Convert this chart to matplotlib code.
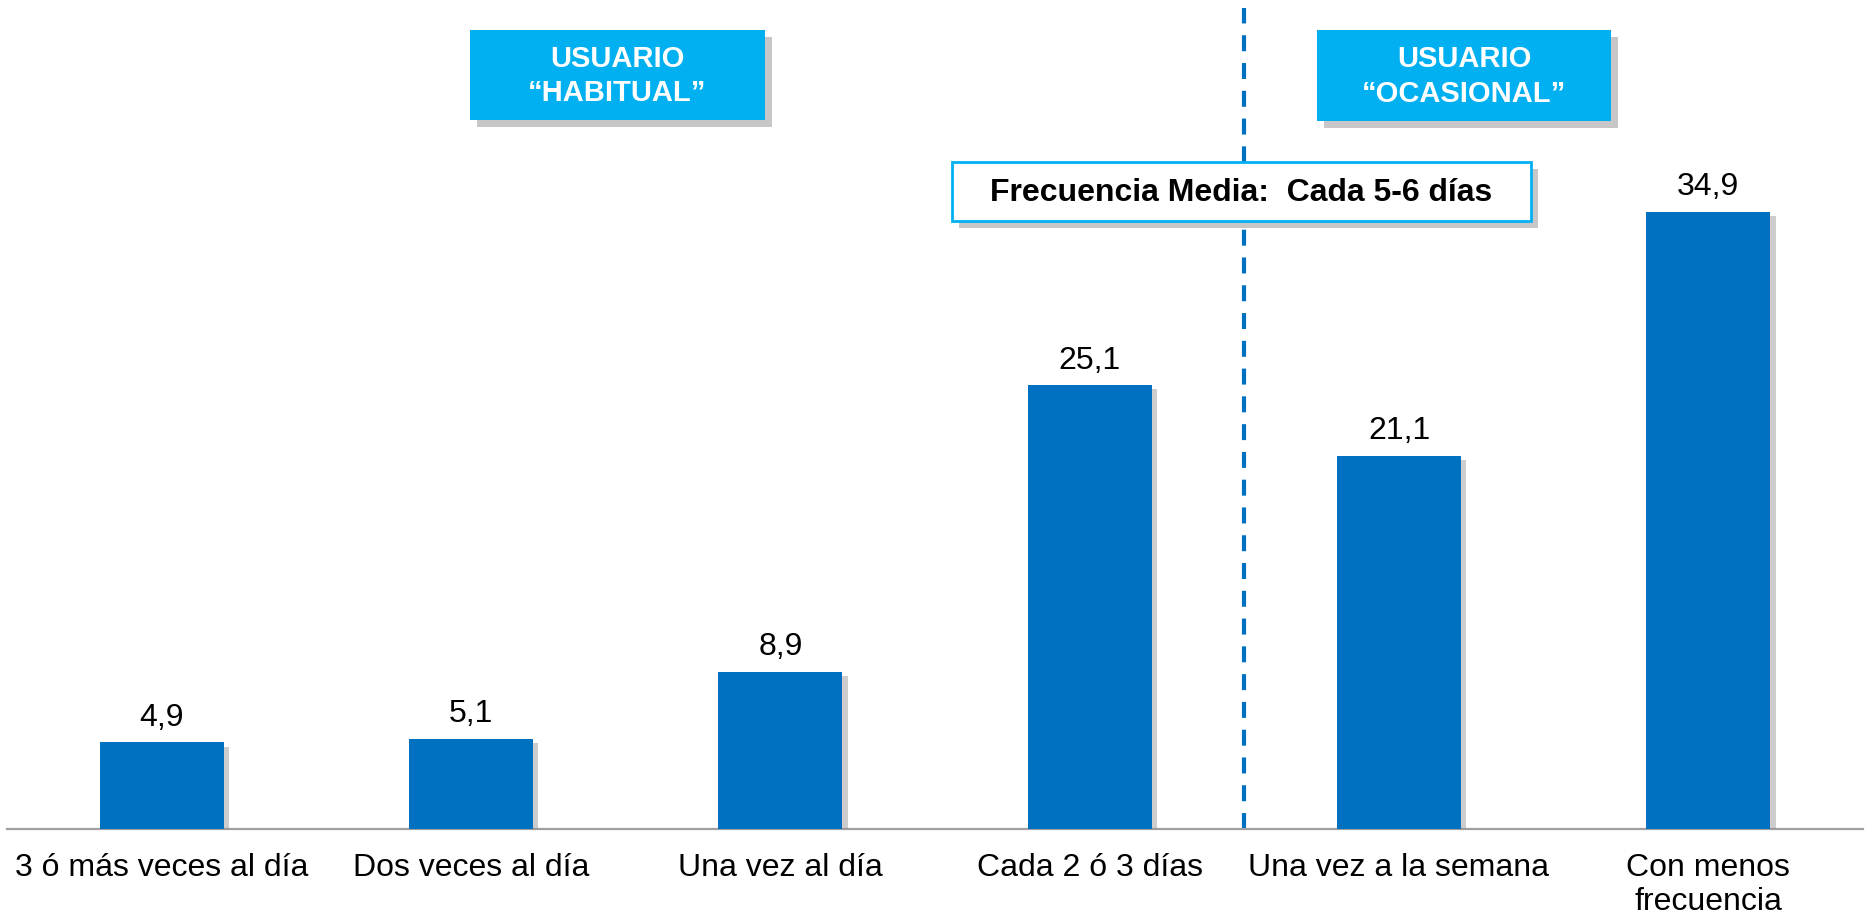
import matplotlib
matplotlib.use("Agg")
import matplotlib.pyplot as plt
import matplotlib.patheffects as pe
from matplotlib.patches import Rectangle

plt.rcParams['font.family'] = ['Liberation Sans', 'DejaVu Sans']
plt.rcParams['lines.scale_dashes'] = False

categories = ["3 ó más veces al día", "Dos veces al día", "Una vez al día",
              "Cada 2 ó 3 días", "Una vez a la semana", "Con menos\nfrecuencia"]
values = [4.9, 5.1, 8.9, 25.1, 21.1, 34.9]
value_labels = ["4,9", "5,1", "8,9", "25,1", "21,1", "34,9"]
group_labels = ["USUARIO\n\u201cHABITUAL\u201d", "USUARIO\n\u201cOCASIONAL\u201d"]
mean_label = "Frecuencia Media:  Cada 5-6 días"

W, H = 1871, 919
fig = plt.figure(figsize=(W / 100, H / 100), dpi=100)
ax = fig.add_axes([7 / W, 1 - 829 / H, (1863 - 7) / W, 829 / H])

bar_color = "#0070C0"
box_color = "#00B0F0"
x = list(range(len(categories)))
bars = ax.bar(x, values, width=0.40, color=bar_color, zorder=3)
for b in bars:
    b.set_path_effects([pe.SimplePatchShadow(offset=(4, -3), shadow_rgbFace="#909090", alpha=0.45),
                        pe.Normal()])

for xi, v, lab in zip(x, values, value_labels):
    ax.annotate(lab, (xi, v), xytext=(0, 7), textcoords="offset points",
                ha="center", va="bottom", fontsize=23, color="black")

ax.set_xlim(-0.5, len(categories) - 0.5)
ax.set_ylim(0, 829 / 17.68)
ax.set_xticks(x)
ax.set_xticklabels(categories, fontsize=23, linespacing=1.2)
ax.tick_params(axis="x", length=0, pad=17)
ax.set_yticks([])
for s in ["top", "right", "left"]:
    ax.spines[s].set_visible(False)
ax.spines["bottom"].set_color("#A0A0A0")
ax.spines["bottom"].set_linewidth(1.6)

# divider
ax.axvline(3.5, ymin=0, ymax=1 - 8 / 829, color=bar_color, lw=3,
           dashes=(11.5, 8.5), zorder=1)


def px_rect(x0, y0, x1, y1, face, edge=None, lw=0):
    r = Rectangle((x0 / W, 1 - y1 / H), (x1 - x0) / W, (y1 - y0) / H,
                  transform=fig.transFigure, facecolor=face,
                  edgecolor=edge if edge else face, linewidth=lw, zorder=5)
    r.set_path_effects([pe.SimplePatchShadow(offset=(5, -5), shadow_rgbFace="#909090", alpha=0.5),
                        pe.Normal()])
    fig.add_artist(r)
    return r


# group boxes
for (x0, y0, x1, y1), lab in zip([(470, 30, 765, 120), (1317, 30, 1611, 121)], group_labels):
    px_rect(x0, y0, x1, y1, box_color)
    fig.text((x0 + x1) / 2 / W, 1 - (y0 + y1 + 2) / 2 / H, lab, ha="center", va="center",
             color="white", fontsize=21, fontweight="bold", linespacing=1.3, zorder=6)

# mean box
px_rect(952, 162, 1531, 221, "white", edge=box_color, lw=2)
fig.text((952 + 1531) / 2 / W, 1 - 193 / H, mean_label, ha="center", va="center",
         color="black", fontsize=23, fontweight="bold", zorder=6)

fig.savefig("out.png", dpi=100)
